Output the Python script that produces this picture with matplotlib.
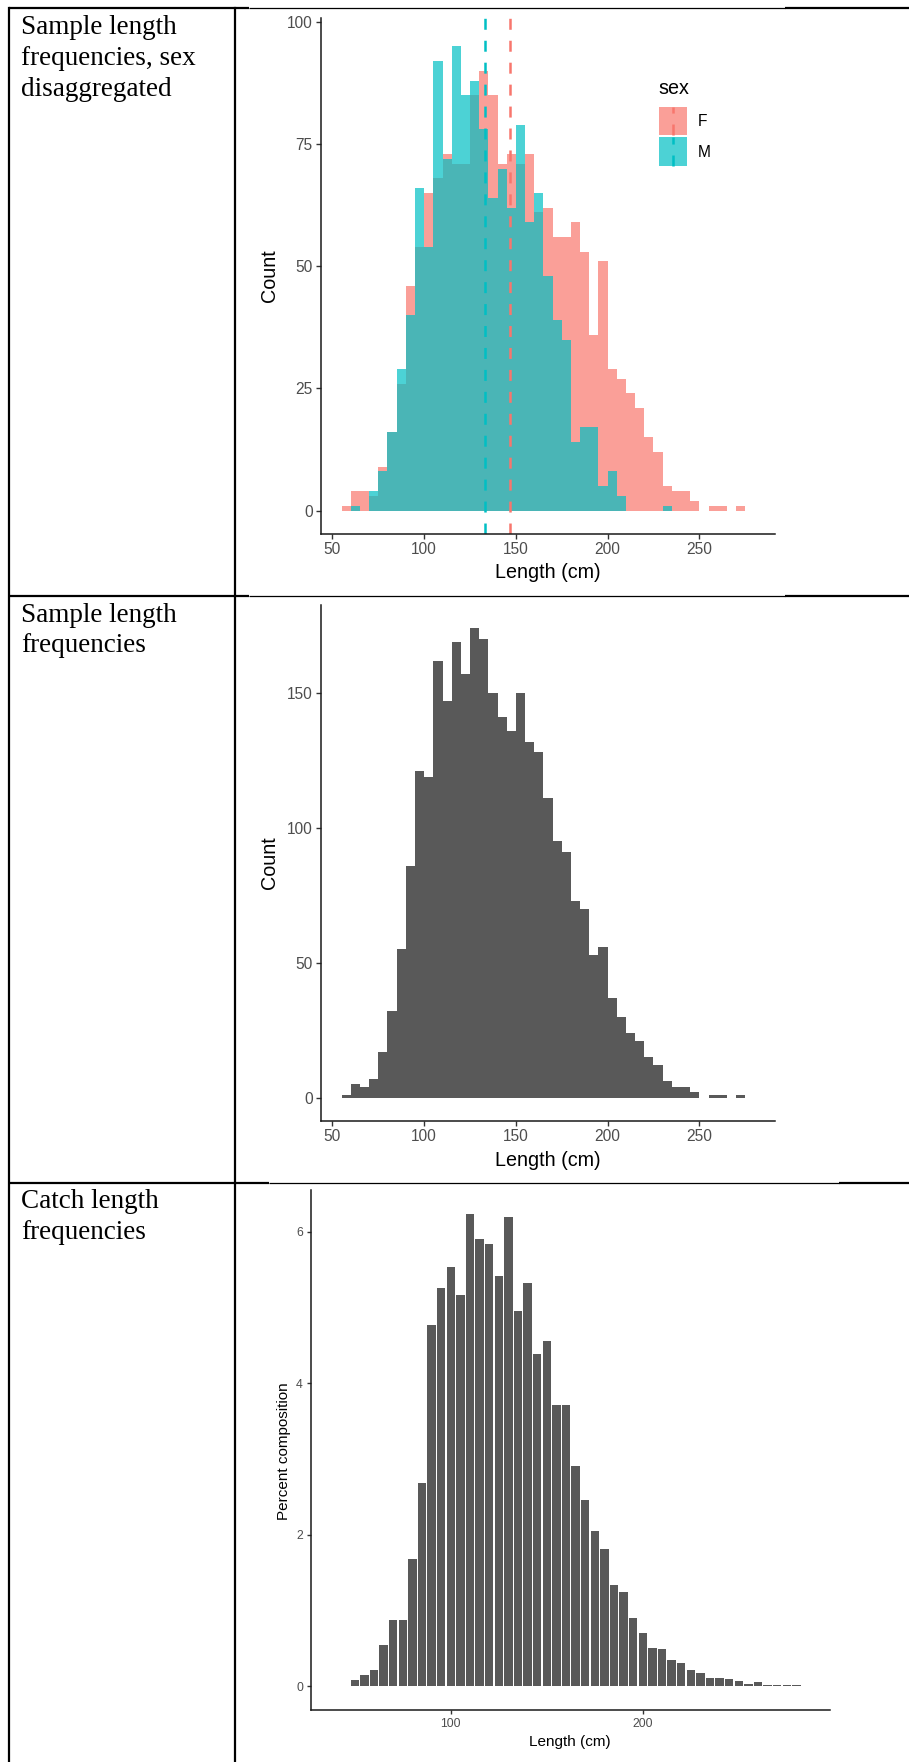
import numpy as np
import matplotlib
matplotlib.use('Agg')
import matplotlib.pyplot as plt

W, H = 909, 1762
SANS = ['Liberation Sans', 'DejaVu Sans']
SERIF = ['Liberation Serif', 'DejaVu Serif']
plt.rcParams['font.family'] = SANS
plt.rcParams['lines.scale_dashes'] = False

# length bins (cm), 5 cm wide, left edges 55 .. 270
bin_edges = np.arange(55, 280, 5)

female_counts = [1, 4, 4, 3, 9, 16, 26, 46, 54, 65,
                 68, 73, 71, 71, 85, 90, 85, 71, 73, 71,
                 73, 61, 62, 56, 56, 59, 53, 36, 51, 29,
                 27, 24, 21, 15, 12, 5, 4, 4, 2, 0,
                 1, 1, 0, 1]
male_counts = [0, 1, 0, 4, 8, 16, 29, 40, 66, 54,
               92, 72, 95, 85, 88, 78, 64, 70, 62, 79,
               59, 65, 48, 39, 35, 14, 17, 17, 5, 8,
               3, 0, 0, 0, 0, 1, 0, 0, 0, 0,
               0, 0, 0, 0]
female_mean = 146.7
male_mean = 132.9

total_counts = [1, 5, 4, 7, 17, 32, 55, 86, 121, 119,
                162, 147, 169, 157, 174, 170, 150, 141, 136, 150,
                132, 128, 111, 95, 91, 73, 70, 53, 56, 37,
                30, 24, 21, 15, 12, 6, 4, 4, 2, 0,
                1, 1, 0, 1]

catch_length = np.arange(50, 285, 5)
catch_pct = [0.09, 0.15, 0.22, 0.54, 0.88, 0.87, 1.68, 2.69, 4.77, 5.26,
             5.53, 5.16, 6.24, 5.91, 5.84, 5.42, 6.20, 4.96, 5.32, 4.39,
             4.56, 3.72, 3.72, 2.91, 2.46, 2.05, 1.81, 1.34, 1.24, 0.90,
             0.71, 0.51, 0.49, 0.35, 0.31, 0.22, 0.17, 0.115, 0.115, 0.096,
             0.077, 0.035, 0.058, 0.02, 0.02, 0.02, 0.02]

row_labels = [["Sample length", "frequencies, sex", "disaggregated"],
              ["Sample length", "frequencies"],
              ["Catch length", "frequencies"]]

F_COL, M_COL = '#F8766D', '#00BFC4'
TICK_COL = '#4D4D4D'

fig = plt.figure(figsize=(W / 100, H / 100), dpi=100)

# full-figure axes in pixel units for the table, cell text and titles
bg = fig.add_axes([0, 0, 1, 1])
bg.set_xlim(0, W)
bg.set_ylim(H, 0)
bg.axis('off')


def px_axes(left, top, right, bottom):
    return fig.add_axes([left / W, 1 - bottom / H, (right - left) / W, (bottom - top) / H])


def classic(ax, size, tlen=3.6, pad=2.5):
    for s in ['top', 'right']:
        ax.spines[s].set_visible(False)
    for s in ['left', 'bottom']:
        ax.spines[s].set_linewidth(1.1)
        ax.spines[s].set_color('#1a1a1a')
    ax.tick_params(direction='out', length=tlen, width=1.0, color='#333333',
                   labelcolor=TICK_COL, labelsize=size, pad=pad)
    ax.set_facecolor('none')


# table borders
lw_tab = 1.6
TOP, ROW1, ROW2 = 8.3, 595.5, 1182.5
for y, (a, b) in [(TOP, (249, 785)), (ROW1, (249, 785)), (ROW2, (269, 839))]:
    bg.plot([9, a], [y, y], color='black', lw=lw_tab, solid_capstyle='butt')
    bg.plot([a, b], [y, y], color='black', lw=0.9, solid_capstyle='butt')
    bg.plot([b, W], [y, y], color='black', lw=lw_tab, solid_capstyle='butt')
bg.plot([9, 9], [TOP, H], color='black', lw=lw_tab)
bg.plot([235, 235], [TOP, H], color='black', lw=lw_tab)

# left column text
for top, lines in zip([TOP, ROW1, ROW2], row_labels):
    for i, line in enumerate(lines):
        bg.text(21, top + 26 + i * 30.8, line, family=SERIF, fontsize=19.5,
                va='baseline', ha='left', color='black')

# ---- chart 1: sex disaggregated histogram
ax1 = px_axes(321, 18, 775, 534)
ax1.stairs(female_counts, bin_edges, fill=True, color=F_COL, alpha=0.7, lw=0)
ax1.stairs(male_counts, bin_edges, fill=True, color=M_COL, alpha=0.7, lw=0)
ax1.axvline(female_mean, color=F_COL, lw=1.8, dashes=(7.9, 7.9))
ax1.axvline(male_mean, color=M_COL, lw=1.8, dashes=(7.9, 7.9))
ax1.set_xlim(43.75, 291.25)
ax1.set_ylim(-4.8, 100.8)
ax1.set_xticks([50, 100, 150, 200, 250])
ax1.set_yticks([0, 25, 50, 75, 100])
classic(ax1, 11.2)

bg.text(548, 573, 'Length (cm)', fontsize=14.2, ha='center', va='center')
bg.text(269, 276, 'Count', fontsize=14.2, ha='center', va='center', rotation=90)

# legend
bg.text(658, 88, 'sex', fontsize=14.2, ha='left', va='center')
for (k_top, col, lab) in [(106.5, F_COL, 'F'), (137.2, M_COL, 'M')]:
    bg.add_patch(plt.Rectangle((659, k_top), 28, 28.3, facecolor=col, alpha=0.7, lw=0))
    bg.plot([672.7, 672.7], [k_top + 28.3, k_top], color=col, lw=1.8, dashes=(7.9, 7.9))
    bg.text(698, k_top + 15.5, lab, fontsize=11.2, ha='left', va='center', color='black')

# ---- chart 2: total sample histogram
ax2 = px_axes(321, 605, 775, 1121)
ax2.stairs(total_counts, bin_edges, fill=True, color='#595959', lw=0)
ax2.set_xlim(43.75, 291.25)
ax2.set_ylim(-8.7, 182.7)
ax2.set_xticks([50, 100, 150, 200, 250])
ax2.set_yticks([0, 50, 100, 150])
classic(ax2, 11.2)

bg.text(548, 1160, 'Length (cm)', fontsize=14.2, ha='center', va='center')
bg.text(269, 863, 'Count', fontsize=14.2, ha='center', va='center', rotation=90)

# ---- chart 3: catch percent composition
ax3 = px_axes(311, 1190, 830, 1710)
ax3.bar(catch_length, catch_pct, width=4.4, color='#595959', lw=0)
ax3.set_xlim(27.2, 297.5)
ax3.set_ylim(-0.312, 6.552)
ax3.set_xticks([100, 200])
ax3.set_yticks([0, 2, 4, 6])
classic(ax3, 8.8, tlen=3.2, pad=2.6)

bg.text(570, 1742, 'Length (cm)', fontsize=11, ha='center', va='center')
bg.text(284, 1451, 'Percent composition', fontsize=11,
        ha='center', va='center', rotation=90)

fig.savefig('out.png', dpi=100, facecolor='white')
